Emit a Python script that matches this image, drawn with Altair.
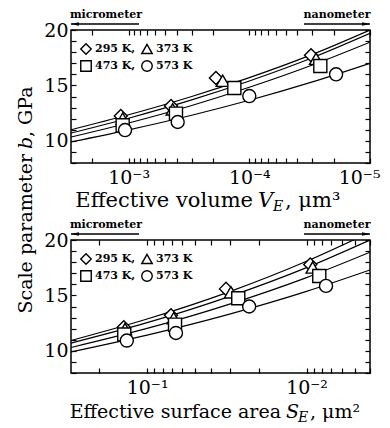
import altair as alt
import pandas as pd

FONT = "DejaVu Serif"

temps = ["295 K", "373 K", "473 K", "573 K"]
shapes = ["diamond", "triangle-up", "square", "circle"]
legend_labels = ["295 K,", "373 K", "473 K,", "573 K"]

# ---- Effective volume panel (V_E, um^3) ----
ve_295 = [1.16e-3, 4.45e-4, 1.89e-4, 3.08e-5]
b_ve_295 = [12.24, 13.14, 15.67, 17.72]
ve_373 = [1.12e-3, 4.31e-4, 1.66e-4, 2.80e-5]
b_ve_373 = [12.0, 12.84, 15.42, 17.41]
ve_473 = [1.12e-3, 4.05e-4, 1.33e-4, 2.58e-5]
b_ve_473 = [11.4, 12.45, 14.77, 16.75]
ve_573 = [1.07e-3, 3.92e-4, 1.0e-4, 1.91e-5]
b_ve_573 = [10.97, 11.7, 14.04, 16.0]

ve_curve = [3e-3, 1e-3, 3e-4, 1e-4, 3e-5, 1e-5]
b_ve_curve_295 = [11.0, 12.35, 14.0, 15.7, 17.8, 20.0]
b_ve_curve_373 = [10.7, 12.04, 13.69, 15.4, 17.5, 19.7]
b_ve_curve_473 = [10.34, 11.61, 13.19, 14.83, 16.84, 18.9]
b_ve_curve_573 = [9.9, 10.99, 12.31, 13.66, 15.32, 17.0]

ve_domain = [1e-5, 3e-3]
ve_ticks = [2e-3, 1e-3, 9e-4, 8e-4, 7e-4, 6e-4, 5e-4, 4e-4, 3e-4, 2e-4,
            1e-4, 9e-5, 8e-5, 7e-5, 6e-5, 5e-5, 4e-5, 3e-5, 2e-5, 1e-5]
ve_major = [1e-3, 1e-4, 1e-5]
ve_major_labels = ["10\u207b\u00b3", "10\u207b\u2074", "10\u207b\u2075"]

# ---- Effective surface area panel (S_E, um^2) ----
se_295 = [0.140, 0.0708, 0.0320, 0.00948]
b_se_295 = [12.12, 13.2, 15.59, 17.79]
se_373 = [0.1375, 0.0681, 0.0298, 0.00916]
b_se_373 = [11.97, 12.95, 15.28, 17.52]
se_473 = [0.139, 0.0668, 0.0268, 0.00832]
b_se_473 = [11.47, 12.36, 14.74, 16.75]
se_573 = [0.134, 0.0659, 0.0229, 0.00755]
b_se_573 = [10.93, 11.61, 14.0, 15.86]

se_curve = [0.3, 0.1, 0.03, 0.01, 0.004]
b_se_curve_295 = [10.93, 12.87, 15.37, 18.08, 20.7]
b_se_curve_373 = [10.7, 12.54, 14.94, 17.51, 20.0]
b_se_curve_473 = [10.3, 12.02, 14.24, 16.61, 18.9]
b_se_curve_573 = [9.9, 11.42, 13.34, 15.37, 17.3]

se_domain = [0.004, 0.3]
se_ticks = [0.2, 0.1, 0.09, 0.08, 0.07, 0.06, 0.05, 0.04, 0.03, 0.02,
            0.01, 0.009, 0.008, 0.007, 0.006, 0.005, 0.004]
se_major = [0.1, 0.01]
se_major_labels = ["10\u207b\u00b9", "10\u207b\u00b2"]

y_ticks = list(range(8, 21))

W, H = 299, 133


def frame(xs_lists, bs_lists):
    rows = []
    for t, xs, bs in zip(temps, xs_lists, bs_lists):
        for x, b in zip(xs, bs):
            rows.append({"T": t, "x": x, "b": b})
    return pd.DataFrame(rows)


one = pd.DataFrame({"k": [0]})


def txt(text, x, y, size, **kw):
    return alt.Chart(one).mark_text(text=text, font=FONT, fontSize=size,
                                    color="black", **kw).encode(
        x=alt.value(x), y=alt.value(y))


def sym(shape, x, y, size=100):
    return alt.Chart(one).mark_point(
        shape=shape, filled=True, fill="white", stroke="black", strokeWidth=1.4,
        opacity=1, fillOpacity=1, size=size).encode(x=alt.value(x), y=alt.value(y))


def arrow(x1, x2, y, left):
    rule = alt.Chart(one).mark_rule(color="black", strokeWidth=1.3).encode(
        x=alt.value(x1), x2=alt.value(x2), y=alt.value(y))
    if left:
        head = alt.Chart(one).mark_point(
            shape="M -1 0 L 1 -0.45 L 1 0.45 Z", filled=True, color="black",
            opacity=1, size=64).encode(x=alt.value(x1 + 4), y=alt.value(y))
    else:
        head = alt.Chart(one).mark_point(
            shape="M 1 0 L -1 -0.45 L -1 0.45 Z", filled=True, color="black",
            opacity=1, size=64).encode(x=alt.value(x2 - 4), y=alt.value(y))
    return [rule, head]


def panel(pts, curves, dom, ticks, major, major_labels, title_parts, ytitle):
    xs = alt.Scale(type="log", domain=dom, reverse=True, nice=False)
    ys = alt.Scale(domain=[8, 20], nice=False, zero=False)
    expr = " : ".join(
        f"abs(datum.value / {v} - 1) < 1e-6 ? '{l}'" for v, l in zip(major, major_labels)
    ) + " : ''"
    lines = alt.Chart(curves).mark_line(
        color="black", strokeWidth=1.2, clip=True, interpolate="monotone"
    ).encode(
        x=alt.X("x:Q", scale=xs, axis=alt.Axis(
            orient="bottom", values=ticks, labelExpr=expr, offset=-5, tickSize=5,
            title=None, labelPadding=5, labelFlush=True, labelFlushOffset=10,
            labelOverlap=False)),
        y=alt.Y("b:Q", scale=ys, axis=alt.Axis(
            orient="left", values=y_ticks,
            labelExpr="datum.value % 5 == 0 ? datum.label : ''",
            offset=-5, tickSize=5, title=None, labelPadding=3,
            labelOverlap=False, labelFlush=False)),
        detail="T:N",
    )
    points = alt.Chart(pts).mark_point(
        filled=True, fill="white", stroke="black", strokeWidth=1.4,
        opacity=1, fillOpacity=1, size=170
    ).encode(
        x=alt.X("x:Q", scale=xs, axis=alt.Axis(
            orient="top", values=ticks, labels=False, offset=-5, tickSize=5, title=None)),
        y=alt.Y("b:Q", scale=ys, axis=alt.Axis(
            orient="right", values=y_ticks, labels=False, offset=-5, tickSize=5, title=None)),
        shape=alt.Shape("T:N", scale=alt.Scale(domain=temps, range=shapes), legend=None),
    )
    main, var, fs, vx, ex, ux, unit, ty = title_parts
    layers = [lines, points]
    layers += [
        txt(main, vx - 5, H + ty, fs, align="right", baseline="alphabetic"),
        txt(var, vx, H + ty, fs, align="left", baseline="alphabetic", fontStyle="italic"),
        txt("E", ex, H + ty + 4, 14, align="left", baseline="alphabetic", fontStyle="italic"),
        txt(unit, ux, H + ty, fs, align="left", baseline="alphabetic"),
        txt("micrometer", 35, -12, 11, align="center", baseline="alphabetic", fontWeight="bold"),
        txt("nanometer", 266, -12, 11, align="center", baseline="alphabetic", fontWeight="bold"),
    ]
    layers += arrow(0, 68, -6, True)
    layers += arrow(233, 299, -6, False)
    # legend (two rows, two entries each)
    lx = [15, 76, 15, 76]
    ly = [19, 19, 36, 36]
    for shp, lab, x, y in zip(shapes, legend_labels, lx, ly):
        layers.append(sym(shp, x, y, 110))
        layers.append(txt(lab, x + 9, y, 11, align="left", baseline="middle", fontWeight="bold"))
    if ytitle:
        layers += [
            txt("Scale parameter", -39, 124, 19, align="right", baseline="alphabetic", angle=270),
            txt("b", -39, 119, 19, align="left", baseline="alphabetic", angle=270, fontStyle="italic"),
            txt(", GPa", -39, 107, 19, align="left", baseline="alphabetic", angle=270),
        ]
    return alt.layer(*layers).resolve_axis(x="independent", y="independent").properties(
        width=W, height=H)


ve_pts = frame([ve_295, ve_373, ve_473, ve_573], [b_ve_295, b_ve_373, b_ve_473, b_ve_573])
ve_lines = frame([ve_curve] * 4, [b_ve_curve_295, b_ve_curve_373, b_ve_curve_473, b_ve_curve_573])
se_pts = frame([se_295, se_373, se_473, se_573], [b_se_295, b_se_373, b_se_473, b_se_573])
se_lines = frame([se_curve] * 4, [b_se_curve_295, b_se_curve_373, b_se_curve_473, b_se_curve_573])

top = panel(ve_pts, ve_lines, ve_domain, ve_ticks, ve_major, ve_major_labels,
            ("Effective volume", "V", 21, 187, 202, 214, ", \u03bcm\u00b3", 44), True)
bottom = panel(se_pts, se_lines, se_domain, se_ticks, se_major, se_major_labels,
               ("Effective surface area", "S", 19, 215, 227, 239, ", \u03bcm\u00b2", 45), False)

chart = alt.vconcat(top, bottom, spacing=77, bounds="flush").configure_view(
    stroke="black", strokeWidth=1.5
).configure_axis(
    domain=False, grid=False, tickColor="black", tickWidth=1.2,
    labelFont=FONT, labelFontSize=19, labelColor="black"
).properties(
    padding={"left": 8, "top": 0, "right": 0, "bottom": 0}
)

chart.save("out.html", embed_options={"renderer": "svg", "actions": False})
